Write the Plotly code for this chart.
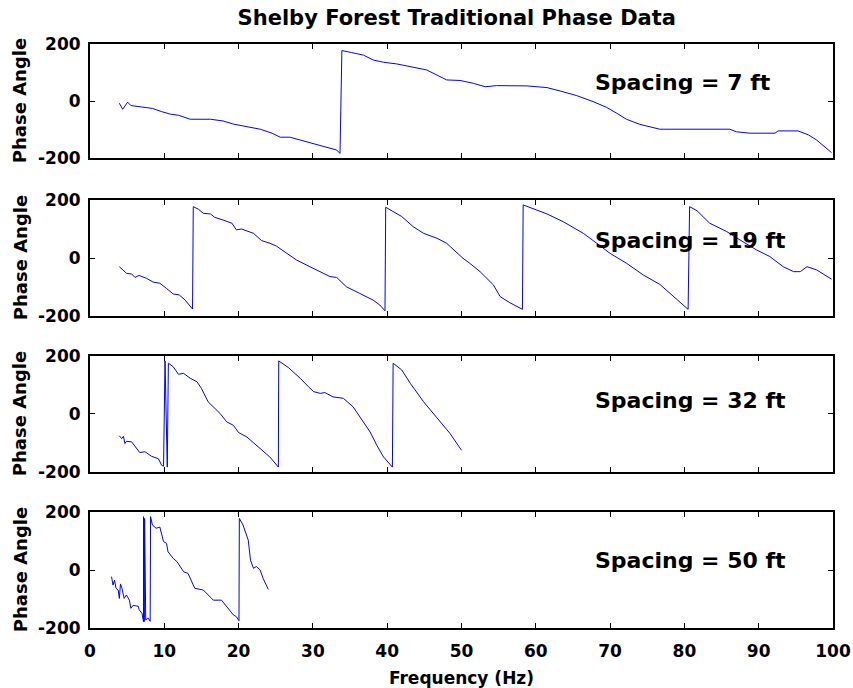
import plotly.graph_objects as go

# ---- data ----
f7 = [3.95, 4.4, 5.07, 5.5, 6.95, 8.4, 9.6, 10.8, 11.9, 13.5, 16.2, 17.9, 19.3, 21.1, 22.9, 24.5, 25.6, 26.9,
      28.3, 30.1, 31.9, 33.2, 33.65, 33.9, 35.2, 36.8, 38.1, 39.5, 41.3, 43.5, 45.3, 46.7, 48.0, 49.8, 51.6,
      53.2, 54.7, 58.8, 61.5, 63.3, 65.5, 67.7, 69.5, 70.9, 72.2, 74.0, 75.4, 76.7, 86.1, 87.0, 88.8, 92.2,
      92.6, 95.3, 96.7, 97.8, 99.8]
p7 = [-8, -29, -4, -16, -21, -26, -37, -46, -50, -64, -64, -70, -81, -90, -99, -113, -127, -127,
      -137, -151, -163, -172, -184, 177, 170, 161, 144, 136, 130, 118, 109, 91, 74, 72, 62,
      50, 54, 53, 47, 35, 19, -2, -22, -43, -64, -82, -90, -99, -99, -108, -113, -113,
      -105, -105, -119, -137, -181]

f19 = [3.95, 4.93, 5.6, 6.06, 6.6, 7.6, 8.5, 9.4, 10.3, 11.2, 12.0, 12.8, 13.8, 13.9, 14.6, 15.25, 16.2,
       16.8, 17.9, 19.1, 19.7, 20.4, 22.0, 23.1, 24.2, 25.1, 26.5, 27.8, 29.6, 31.0, 32.3, 33.2, 34.5, 36.3,
       38.1, 39.0, 39.7, 39.8, 40.8, 41.95, 43.5, 44.9, 46.7, 48.0, 48.5, 50.2, 51.1, 52.5, 54.3, 55.2, 56.5,
       58.2, 58.3, 59.9, 61.5, 63.7, 66.4, 68.2, 70.0, 72.2, 74.5, 76.7, 78.5, 80.5, 80.7, 81.7, 83.4, 85.7,
       87.5, 89.7, 91.5, 93.3, 94.7, 95.6, 96.5, 97.8, 99.8]
p19 = [-30, -53, -55, -67, -60, -70, -83, -87, -105, -124, -127, -145, -176, 177, 168, 154, 152,
       140, 131, 120, 97, 100, 85, 60, 51, 41, 16, -7, -30, -47, -64, -67, -99, -122,
       -145, -162, -182, 175, 160, 143, 108, 85, 68, 51, 39, -1, -18, -47, -93, -133, -154,
       -177, 183, 168, 152, 125, 85, 51, 16, -18, -59, -91, -131, -177, 177, 163, 120, 91,
       62, 28, 5, -30, -47, -47, -30, -41, -73]

f32 = [3.95, 4.26, 4.5, 4.7, 4.9, 5.6, 6.7, 7.4, 8.3, 9.2, 9.65, 9.9, 10.1, 10.4, 10.55, 11.2, 11.9, 12.6,
       13.5, 14.4, 15.0, 15.9, 17.5, 18.4, 19.3, 20.0, 21.1, 22.9, 24.2, 25.35, 25.4, 26.7, 28.3, 29.4, 30.1,
       31.0, 31.6, 32.7, 34.1, 35.4, 36.8, 37.7, 38.6, 39.5, 40.7, 40.8, 41.95, 43.1, 44.9, 46.7, 48.45, 50.0]
p32 = [-75, -85, -77, -102, -94, -96, -133, -130, -146, -154, -177, -180, 183, -183, 175, 163, 137, 140,
       123, 111, 88, 42, 2, -27, -39, -64, -79, -119, -148, -183, 183, 160, 123, 94, 77,
       71, 74, 59, 54, 25, -27, -62, -108, -148, -183, 175, 152, 106, 42, -15, -67, -125]

f50 = [2.9, 3.1, 3.3, 3.5, 3.8, 3.95, 4.1, 4.3, 4.6, 4.9, 5.3, 5.5, 5.8, 6.5, 6.6, 7.0, 7.2, 7.2, 7.3,
       7.35, 7.5, 7.85, 8.1, 8.15, 8.4, 8.9, 9.4, 9.9, 10.3, 10.5, 11.2, 11.7, 12.6, 13.2, 14.1, 15.25,
       16.6, 17.7, 18.4, 19.3, 19.7, 20.05, 20.1, 20.6, 21.3, 21.6, 22.0, 22.4, 22.9, 23.3, 24.0]
p50 = [-23, -52, -35, -63, -69, -98, -48, -63, -98, -86, -104, -132, -122, -125, -136, -150, -178, 184, -178,
       178, -172, -166, -177, 184, 155, 144, 148, 98, 92, 63, 40, 29, -6, -12, -63, -69,
       -104, -104, -127, -155, -161, -175, 178, 155, 103, 34, 6, 12, 0, -29, -67]

series = [(f7, p7), (f19, p19), (f32, p32), (f50, p50)]
labels = ["Spacing = 7 ft", "Spacing = 19 ft", "Spacing = 32 ft", "Spacing = 50 ft"]
label_y = [66, 59, 46, 34]
label_x = 67.7

x_ticks = [0, 10, 20, 30, 40, 50, 60, 70, 80, 90, 100]
y_ticks = [-200, 0, 200]

# ---- figure ----
FONT = "DejaVu Sans"
domains = [(0.8048, 1.0), (0.5342, 0.7329), (0.2671, 0.4658), (0.0, 0.1986)]

fig = go.Figure()
for i, (fx, py) in enumerate(series):
    n = "" if i == 0 else str(i + 1)
    fig.add_trace(go.Scatter(x=fx, y=py, mode="lines", line=dict(color="#0000ff", width=1),
                             xaxis="x" + n, yaxis="y" + n, showlegend=False, hoverinfo="skip"))
    axcommon = dict(showline=True, linecolor="black", linewidth=2, mirror="ticks",
                    ticks="inside", ticklen=5, tickcolor="black", tickwidth=1,
                    showgrid=False, zeroline=False, automargin=False,
                    tickfont=dict(family=FONT, size=17, color="black", weight="bold"))
    xa = dict(axcommon, range=[0, 100], tickvals=x_ticks, ticktext=[str(v) for v in x_ticks],
              anchor="y" + n, showticklabels=(i == 3), ticklabelstandoff=7)
    ya = dict(axcommon, range=[-200, 200], tickvals=y_ticks, ticktext=[str(v) for v in y_ticks],
              domain=list(domains[i]), anchor="x" + n, ticklabelstandoff=4)
    if i == 3:
        xa["title"] = dict(text="Frequency (Hz)", font=dict(family=FONT, size=17, color="black", weight="bold"),
                           standoff=14)
    if i > 0:
        xa["matches"] = "x"
    fig.update_layout(**{"xaxis" + n: xa, "yaxis" + n: ya})
    fig.add_annotation(x=label_x, y=label_y[i], xref="x" + n, yref="y" + n, text=labels[i],
                       showarrow=False, xanchor="left", yanchor="middle",
                       font=dict(family=FONT, size=22, color="black", weight="bold"))
    fig.add_annotation(x=-0.094, y=(domains[i][0] + domains[i][1]) / 2, xref="paper", yref="paper",
                       text="Phase Angle", textangle=-90, showarrow=False,
                       xanchor="center", yanchor="middle",
                       font=dict(family=FONT, size=18, color="black", weight="bold"))

fig.update_layout(
    width=853, height=688,
    margin=dict(l=90, r=20, t=44, b=60, autoexpand=False),
    paper_bgcolor="white", plot_bgcolor="white",
    title=dict(text="Shelby Forest Traditional Phase Data", x=0.5355, xanchor="center",
               y=1 - 18 / 688, yanchor="middle",
               font=dict(family=FONT, size=21, color="black", weight="bold")),
)

fig.write_html("out.html")
